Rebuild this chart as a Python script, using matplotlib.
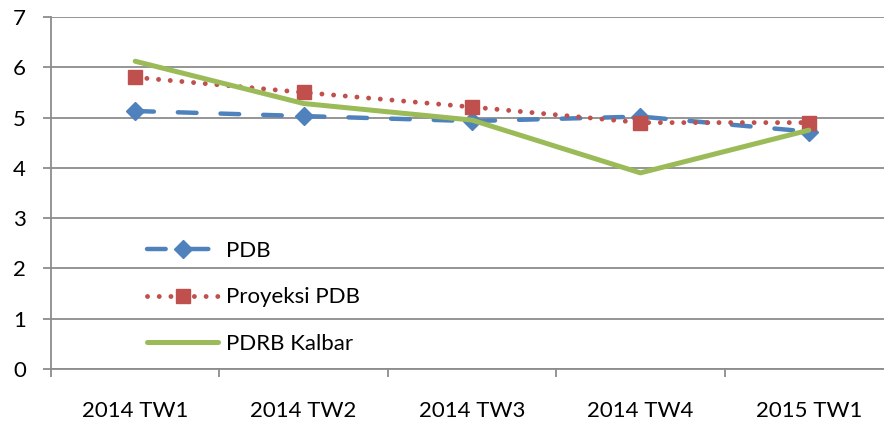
import matplotlib.pyplot as plt
from matplotlib.ticker import FixedLocator, NullFormatter

categories = ["2014 TW1", "2014 TW2", "2014 TW3", "2014 TW4", "2015 TW1"]
pdb = [5.13, 5.03, 4.93, 5.02, 4.72]
proyeksi_pdb = [5.80, 5.50, 5.21, 4.90, 4.90]
pdrb_kalbar = [6.12, 5.28, 4.95, 3.90, 4.75]

plt.rcParams["font.family"] = ["Lato", "DejaVu Sans"]
GRID = "#8c8c8c"
FS = 16

fig = plt.figure(figsize=(8.84, 4.26), dpi=100)
ax = fig.add_axes([51 / 884, 57 / 426, 842 / 884, 352 / 426])

x = range(len(categories))
ax.plot(x, pdb, color="#4f81bd", lw=3.2, ls=(0, (4.2, 5.4)), dash_capstyle="round",
        marker="D", ms=9, label="PDB", zorder=3)
ax.plot(x, proyeksi_pdb, color="#c0504d", lw=3.5, ls=(0, (0.01, 2.4)), dash_capstyle="round",
        marker="s", ms=10, label="Proyeksi PDB", zorder=4)
ax.plot(x, pdrb_kalbar, color="#9bbb59", lw=3.6, solid_capstyle="round",
        label="PDRB Kalbar", zorder=5)

ax.set_xlim(-0.5, len(categories) - 0.5)
ax.set_ylim(0, 7)
ax.set_yticks(range(8))
ax.yaxis.grid(True, color=GRID, lw=1.3)
ax.set_axisbelow(True)

# Excel-style category axis: ticks between categories, labels centred
ax.xaxis.set_major_locator(FixedLocator([i - 0.5 for i in range(len(categories) + 1)]))
ax.xaxis.set_major_formatter(NullFormatter())
ax.xaxis.set_minor_locator(FixedLocator(list(x)))
ax.set_xticklabels(categories, minor=True)
ax.tick_params(axis="x", which="major", length=6, width=1.3, color=GRID, direction="out")
ax.tick_params(axis="x", which="minor", length=0, pad=23, labelsize=FS)
ax.tick_params(axis="y", length=6, width=1.3, color=GRID, pad=12, labelsize=FS)

for s in ["top", "right"]:
    ax.spines[s].set_visible(False)
for s in ["left", "bottom"]:
    ax.spines[s].set_color(GRID)
    ax.spines[s].set_linewidth(1.3)

ax.legend(loc="upper left", bbox_to_anchor=(147 / 884, 0.435), bbox_transform=fig.transFigure,
          frameon=False, fontsize=FS, handlelength=3.2, handletextpad=0.35,
          labelspacing=1.2, borderpad=0, borderaxespad=0)

fig.savefig("out.png", dpi=100)
